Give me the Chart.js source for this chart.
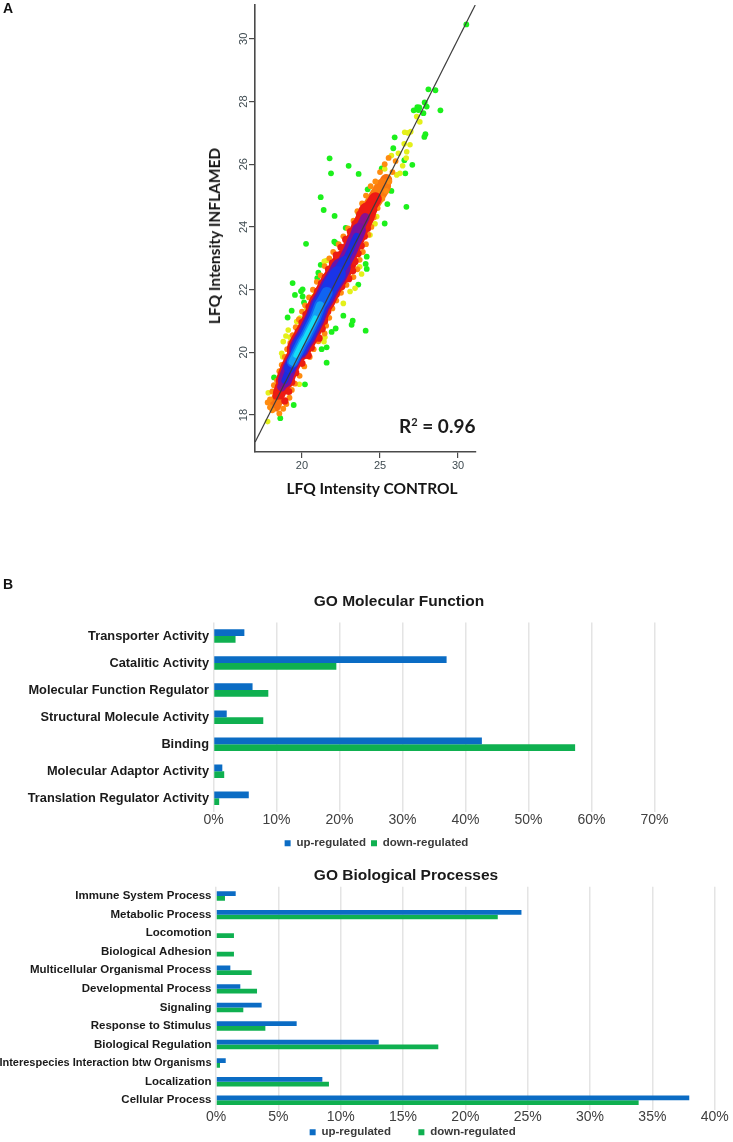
<!DOCTYPE html>
<html><head><meta charset="utf-8">
<script src="https://cdn.jsdelivr.net/npm/chart.js@4"></script>
<style>
html,body{margin:0;padding:0;background:#fff;width:733px;height:1142px;overflow:hidden}
#page{position:relative;width:733px;height:1142px;overflow:hidden}
canvas{position:absolute;filter:blur(.4px)}
.t{position:absolute;white-space:nowrap;color:#111;filter:blur(.3px)}
.panel{font:bold 14px "Liberation Sans",sans-serif}
.go{font:bold 15.5px "Liberation Sans",sans-serif;color:#1a1a1a;transform:translateX(-50%)}
.lfq{font:bold 15.5px Lato,sans-serif;color:#151515;transform:translate(-50%,-50%)}
.lfqv{transform:translate(-50%,-50%) rotate(-90deg)}
.r2{font:bold 19px Lato,sans-serif;color:#1a1a1a}
.r2 sup{font-size:11px;line-height:0}
</style></head><body><div id="page">
<div class="t panel" style="left:3px;top:0px">A</div>
<div class="t panel" style="left:3px;top:576px">B</div>
<canvas id="sc" width="300" height="480" style="left:200px;top:0"></canvas>
<div class="t lfq lfqv" style="left:214px;top:236px">LFQ Intensity INFLAMED</div>
<div class="t lfq" style="left:372px;top:488px">LFQ Intensity CONTROL</div>
<div class="t r2" style="left:399px;top:414px">R<sup>2</sup> = 0.96</div>
<div class="t go" style="left:399px;top:592px">GO Molecular Function</div>
<canvas id="mf" width="733" height="247" style="left:0;top:612px"></canvas>
<div class="t go" style="left:406px;top:866px">GO Biological Processes</div>
<canvas id="bp" width="733" height="270" style="left:0;top:878px"></canvas>
</div>
<script>
/* ---------- Panel A values (control, inflamed) ---------- */
const fitLine=[[17,17.14],[31.1,31.08]];
const scatterXTicks=[20,25,30];
const scatterYTicks=[18,20,22,24,26,28,30];
const greenPoints=[[30.53,30.46],[28.10,28.39],[28.55,28.36],[28.87,27.72],[27.86,27.97],[27.99,27.84],[27.16,27.72],[27.39,27.82],[27.52,27.81],[27.46,27.73],[27.78,27.63],[27.91,26.96],[27.84,26.87],[25.94,26.86],[25.85,26.51],[26.56,26.13],[27.07,25.98],[26.62,25.71],[25.11,25.87],[21.77,26.19],[22.99,25.95],[21.86,25.71],[23.63,25.69],[24.21,25.20],[25.73,25.15],[21.20,24.95],[21.39,24.54],[22.09,24.35],[25.47,24.73],[26.69,24.64],[25.30,24.11],[23.63,24.41],[22.80,23.97],[22.07,23.53],[22.18,23.48],[20.26,23.46],[19.40,22.21],[19.55,21.83],[20.04,22.01],[19.94,21.95],[20.04,21.78],[20.13,21.59],[19.34,21.33],[19.08,21.11],[21.20,22.79],[21.05,22.54],[20.98,22.37],[24.15,23.05],[24.08,22.82],[24.15,22.66],[23.61,22.16],[22.65,21.17],[23.25,21.01],[23.18,20.88],[22.16,20.76],[21.90,20.65],[24.08,20.69],[21.58,20.16],[21.26,20.10],[21.58,19.67],[20.19,18.98],[19.47,18.32],[18.61,17.90],[18.21,19.20]];
const yellowPoints=[[27.35,27.52],[27.55,27.35],[26.97,27.04],[26.58,27.02],[26.8,27.0],[26.92,26.62],[26.71,26.40],[26.55,26.65],[26.68,26.2],[25.73,26.28],[26.18,26.35],[26.28,25.71],[26.07,25.66],[26.45,25.95],[25.55,25.5],[25.3,25.85],[24.68,24.10],[24.36,23.74],[24.79,24.33],[22.33,23.1],[21.58,22.93],[21.43,22.9],[20.83,21.94],[20.75,21.78],[20.3,21.4],[19.87,21.09],[19.66,20.98],[19.12,20.71],[18.97,20.52],[19.23,20.48],[18.8,20.34],[18.7,19.97],[18.76,19.86],[23.7,22.73],[23.82,22.5],[23.08,21.94],[23.4,22.04],[22.65,21.56],[21.47,20.48],[21.41,20.34],[17.84,18.71],[17.8,17.79],[18.97,18.39],[19.83,18.98]];
const orangePoints=[[17.8,18.4],[17.95,18.25],[18.1,18.15],[17.95,18.5],[18.1,18.75],[18.2,18.95],[18.4,19.1],[18.55,19.4],[18.7,19.6],[18.9,19.85],[19.05,20.1],[19.25,20.3],[19.4,20.55],[19.6,20.8],[19.8,21.05],[20.0,21.3],[20.2,21.5],[20.45,21.75],[20.7,22.0],[20.95,22.25],[21.2,22.45],[21.45,22.75],[21.75,23.0],[22.0,23.2],[22.35,23.45],[22.65,23.7],[22.95,23.95],[23.3,24.2],[23.55,24.5],[23.85,24.75],[24.1,25.0],[24.4,25.3],[24.7,25.45],[25.0,25.75],[25.3,26.0],[25.55,26.2],[18.55,18.05],[18.8,18.2],[19.0,18.35],[19.2,18.55],[19.35,18.8],[19.55,19.0],[19.85,19.25],[20.15,19.55],[20.5,19.85],[20.75,20.1],[21.05,20.35],[21.45,20.6],[21.55,20.85],[21.75,21.1],[21.95,21.4],[22.2,21.65],[22.5,21.9],[22.85,22.15],[23.3,22.4],[23.55,22.65],[23.7,22.95],[23.9,23.2],[24.1,23.45],[24.25,23.75],[24.45,24.0],[24.6,24.3],[24.85,24.6],[25.15,24.9],[25.4,25.15],[25.6,25.45],[25.8,25.75],[26.0,26.1]];
const redPoints=[[18.35,18.6],[18.5,18.9],[18.7,19.25],[18.95,19.55],[19.15,19.8],[19.3,20.0],[19.55,20.35],[19.75,20.65],[20.0,20.95],[20.25,21.2],[20.45,21.45],[20.75,21.7],[21.0,21.95],[21.25,22.2],[21.5,22.4],[21.7,22.65],[21.95,22.85],[22.2,23.1],[22.5,23.35],[22.8,23.6],[23.1,23.85],[23.4,24.1],[23.7,24.4],[18.9,18.45],[19.15,18.75],[19.35,19.05],[19.6,19.35],[20.0,19.65],[20.4,19.9],[20.6,20.15],[21.1,20.45],[21.3,20.75],[21.45,21.0],[21.65,21.3],[21.85,21.55],[22.2,21.85],[22.55,22.1],[23.0,22.35],[23.25,22.6],[23.4,22.9],[23.6,23.15],[23.8,23.4],[24.0,23.7],[24.2,23.95],[24.35,24.25],[24.6,24.55]];
const densityRidge=[[18.3,18.3],[18.4,18.5],[18.55,18.7],[18.7,18.9],[18.9,19.1],[19.05,19.3],[19.2,19.5],[19.4,19.7],[19.6,19.9],[19.8,20.1],[20.0,20.3],[20.25,20.5],[20.45,20.7],[20.65,20.9],[20.85,21.1],[21.0,21.3],[21.15,21.5],[21.4,21.7],[21.6,21.9],[21.8,22.1],[22.05,22.3],[22.3,22.5],[22.5,22.7],[22.75,22.9],[22.95,23.1],[23.15,23.3],[23.3,23.5],[23.5,23.7],[23.65,23.9],[23.85,24.1],[24.05,24.3],[24.2,24.5],[24.45,24.7],[24.7,24.9],[24.95,25.1],[25.2,25.3],[25.4,25.5]];

/* ---------- Panel B values (percent) ---------- */
const mfCategories=["Transporter Activity","Catalitic Activity","Molecular Function Regulator","Structural Molecule Activity","Binding","Molecular Adaptor Activity","Translation Regulator Activity"];
const mfUp=[4.9,37.0,6.2,2.1,42.6,1.4,5.6];
const mfDown=[3.5,19.5,8.7,7.9,57.4,1.7,0.9];
const mfTicks=[0,10,20,30,40,50,60,70];
const bpCategories=["Immune System Process","Metabolic Process","Locomotion","Biological Adhesion","Multicellular Organismal Process","Developmental Process","Signaling","Response to Stimulus","Biological Regulation","Interespecies Interaction btw Organisms","Localization","Cellular Process"];
const bpUp=[1.58,24.5,0,0,1.15,1.95,3.66,6.47,13.05,0.78,8.53,37.96];
const bpDown=[0.72,22.6,1.44,1.44,2.86,3.29,2.19,3.96,17.83,0.32,9.06,33.9];
const bpTicks=[0,5,10,15,20,25,30,35,40];
const seriesNames=["up-regulated","down-regulated"];

/* labels may reach past the axis boxes: widen the clip area to the whole canvas */
const openLabelClip={id:'openLabelClip',afterLayout(c){c.scales.y.left=0;c.scales.x.bottom=c.height;}};
const noPad=s=>{s.paddingTop=0;s.paddingBottom=0;s.paddingLeft=0;s.paddingRight=0;};

/* ---------- Panel A chart ---------- */
const pts=a=>a.map(p=>({x:p[0],y:p[1]}));
const ridge=(lo,hi)=>pts(densityRidge.filter(p=>p[1]>=lo&&p[1]<=hi));
const dot=(data,color,radius)=>({type:'scatter',data,backgroundColor:color,borderWidth:0,pointRadius:radius,pointHoverRadius:radius,showLine:false});
const band=(data,color,radius)=>({type:'scatter',data,showLine:true,fill:false,tension:0,borderColor:color,borderWidth:radius*2,borderCapStyle:'round',borderJoinStyle:'round',pointRadius:0,pointHoverRadius:0});
const layers=[
 dot(pts(greenPoints),'#1cf01c',2.9),
 dot(pts(yellowPoints),'#e4f01a',2.8),
 band(ridge(18.3,25.5),'#f8700f',6),
 band(ridge(24.1,25.3),'#fb7a10',8),
 dot(pts(orangePoints),'#ff8c10',2.9),
 band(ridge(18.7,24.9),'#ee1a14',6.5),
 band(ridge(19.0,24.5),'#ee1a14',9),
 band(ridge(20.0,22.9),'#ea1414',12),
 dot(pts(redPoints),'#ec1c12',3.6),
 band(ridge(18.9,24.3),'#8a1090',4.6),
 band(ridge(19.1,24.0),'#7a10a0',7),
 band(ridge(20.1,22.7),'#6a14a8',9.8),
 band(ridge(19.1,23.7),'#1c2ce0',3.4),
 band(ridge(19.4,23.0),'#1a30e4',5.6),
 band(ridge(20.1,22.5),'#1a34e8',8),
 band(ridge(19.7,21.9),'#1064f2',5.8),
 band(ridge(19.7,21.5),'#14a0f4',4),
 band(ridge(19.9,21.1),'#14dcf8',2.4)
];
const axisColor='#4a4a4a';
new Chart(document.getElementById('sc'),{
 type:'scatter',
 data:{datasets:[
  {type:'scatter',data:pts(fitLine),showLine:true,borderColor:'#3c3c3c',borderWidth:1.2,pointRadius:0,fill:false},
  ...layers.reverse()]},
 options:{responsive:false,animation:false,
  layout:{autoPadding:false,padding:{left:0,right:24,top:5,bottom:0}},
  plugins:{legend:{display:false},title:{display:false},tooltip:{enabled:false}},
  scales:{
   x:{type:'linear',min:16.99,max:31.15,
    afterBuildTicks:s=>{s.ticks=scatterXTicks.map(v=>({value:v}))},
    afterFit:s=>{s.height=28;noPad(s)},
    grid:{drawOnChartArea:false,drawTicks:true,tickLength:6,color:axisColor,lineWidth:1.2},
    border:{display:true,color:axisColor,width:1.6},
    ticks:{font:{family:'Liberation Sans',size:11},color:'#3e4a50',padding:1,maxRotation:0}},
   y:{type:'linear',min:16.82,max:31.08,
    afterBuildTicks:s=>{s.ticks=scatterYTicks.map(v=>({value:v}))},
    afterFit:s=>{s.width=55;noPad(s)},
    grid:{drawOnChartArea:false,drawTicks:true,tickLength:6,color:axisColor,lineWidth:1.2},
    border:{display:true,color:axisColor,width:1.6},
    ticks:{font:{family:'Liberation Sans',size:11},color:'#3e4a50',padding:-1,minRotation:90,maxRotation:90,crossAlign:'center'}}
  }}
});

/* ---------- Panel B charts ---------- */
function goChart(id,cats,up,down,ticks,maxV,o){
 new Chart(document.getElementById(id),{
  type:'bar',
  plugins:[openLabelClip],
  data:{labels:cats,datasets:[
   {label:seriesNames[0],data:up,backgroundColor:'#0b6cc4',borderWidth:0,categoryPercentage:o.group,barPercentage:1},
   {label:seriesNames[1],data:down,backgroundColor:'#0fb050',borderWidth:0,categoryPercentage:o.group,barPercentage:1}]},
  options:{indexAxis:'y',responsive:false,animation:false,
   layout:{autoPadding:false,padding:o.pad},
   plugins:{title:{display:false},tooltip:{enabled:false},
    legend:{display:true,position:'bottom',labels:{boxWidth:6,boxHeight:6,padding:5,color:'#3a3a3a',
      font:{family:'Liberation Sans',size:11.5,weight:'bold'},
      generateLabels:c=>Chart.defaults.plugins.legend.labels.generateLabels(c).map((l,i)=>({...l,text:i===0?l.text+o.gap:l.text}))}}},
   scales:{
    x:{type:'linear',min:0,max:maxV,
     afterBuildTicks:s=>{s.ticks=ticks.map(v=>({value:v}))},
     afterFit:s=>{s.height=o.xh;noPad(s)},
     grid:{color:'#e4e4e4',lineWidth:1.5,drawTicks:false},border:{display:false},
     ticks:{callback:v=>v+'%',font:{family:'Liberation Sans',size:14},color:'#404040',padding:o.tp,maxRotation:0,autoSkip:false}},
    y:{type:'category',
     afterFit:s=>{s.width=o.yw;noPad(s)},
     grid:{display:false,drawTicks:false},border:{display:false},
     ticks:{font:c=>({family:'Liberation Sans',weight:'bold',size:cats[c.index]&&cats[c.index].length>35?11:o.fs}),color:'#1a1a1a',padding:4.5,autoSkip:false}}
   }}
 });
}
goChart('mf',mfCategories,mfUp,mfDown,mfTicks,70,{group:.5,pad:{left:98.5,right:78.5,top:10.5,bottom:0},xh:20.7,yw:115,tp:0,fs:12.8,gap:''});
goChart('bp',bpCategories,bpUp,bpDown,bpTicks,40,{group:.51,pad:{left:110.7,right:18.3,top:8.8,bottom:0},xh:12,yw:105.3,tp:-0.5,fs:11.5,gap:'\u00a0\u00a0\u00a0\u00a0\u00a0\u00a0\u00a0'});
</script></body></html>
